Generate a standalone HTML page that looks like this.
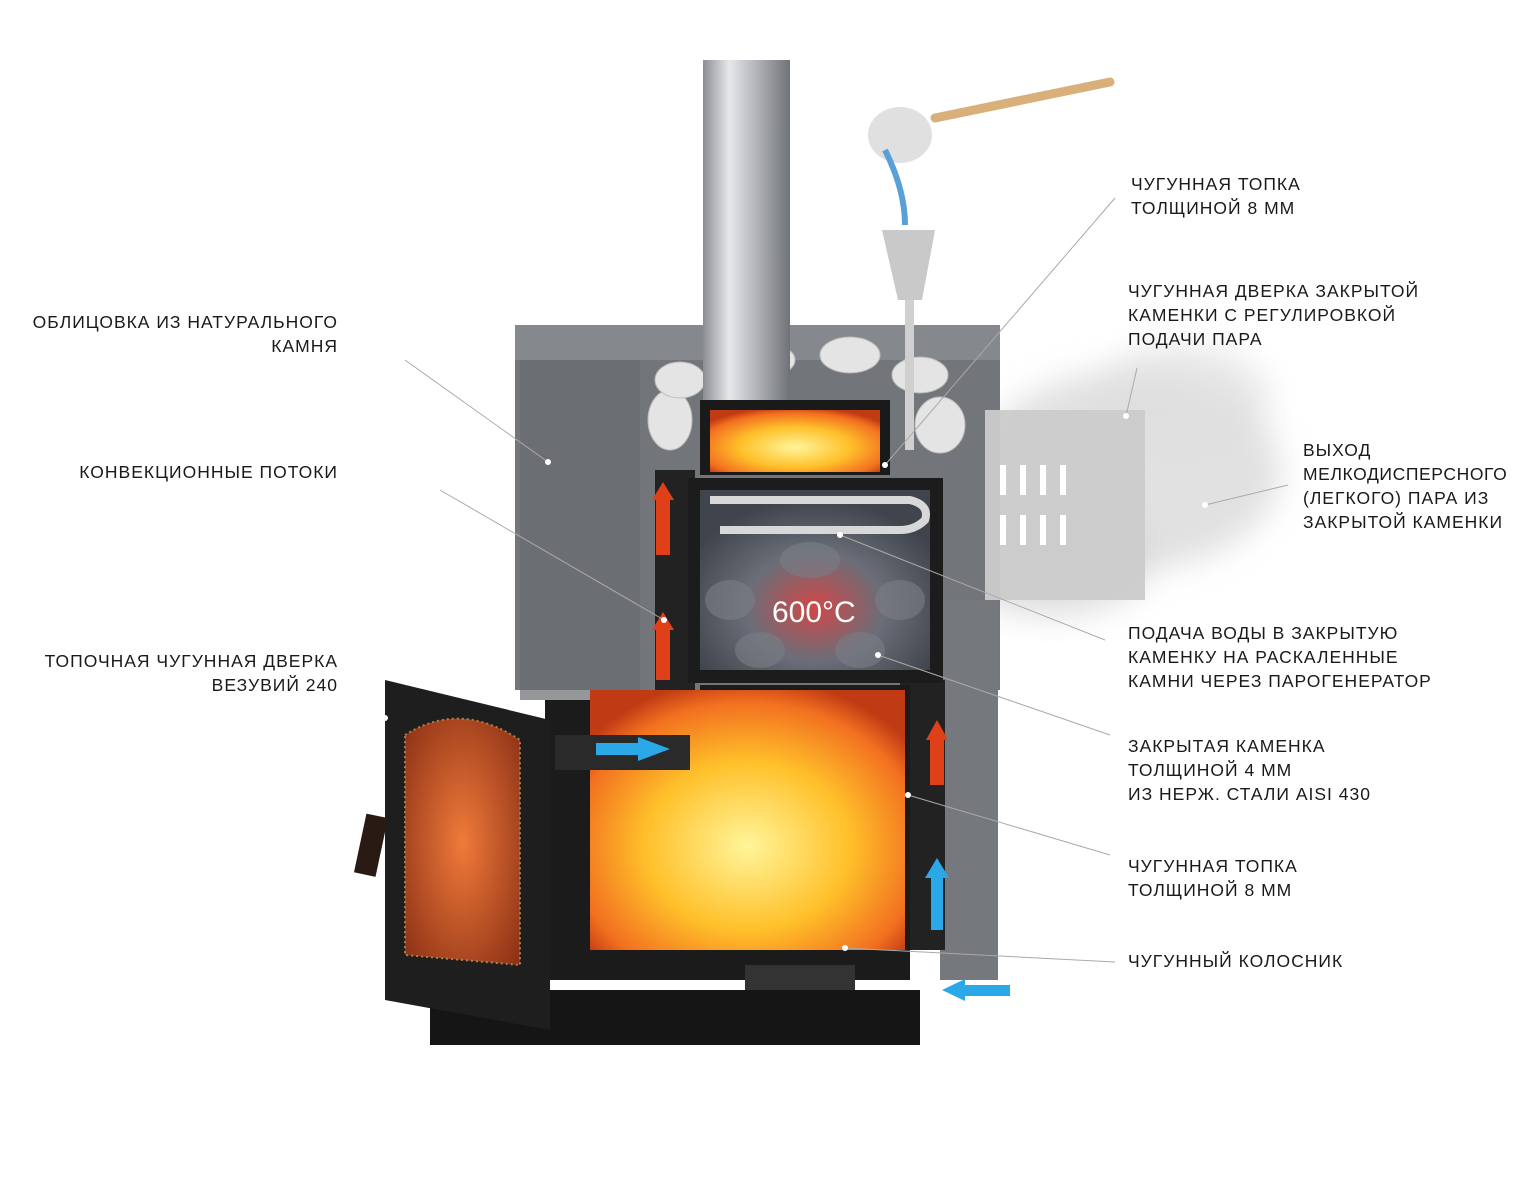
<!DOCTYPE html>
<html><head><meta charset="utf-8"><style>
html,body{margin:0;padding:0;background:#fff;}
svg{display:block}
text{font-family:"Liberation Sans",sans-serif;font-size:17.5px;fill:#1a1a1a;letter-spacing:1px}
</style></head><body>
<svg width="1540" height="1200" viewBox="0 0 1540 1200" xmlns="http://www.w3.org/2000/svg">
<defs>
<linearGradient id="pipe" x1="0" x2="1"><stop offset="0" stop-color="#8a8d92"/><stop offset=".3" stop-color="#e6e8ea"/><stop offset=".6" stop-color="#b4b7bb"/><stop offset="1" stop-color="#6f7277"/></linearGradient>
<radialGradient id="fire" cx=".5" cy=".6" r=".65"><stop offset="0" stop-color="#fff59a"/><stop offset=".5" stop-color="#ffc02a"/><stop offset=".85" stop-color="#f27020"/><stop offset="1" stop-color="#c03a14"/></radialGradient>
<radialGradient id="glass" cx=".5" cy=".5" r=".7"><stop offset="0" stop-color="#f07a3a"/><stop offset="1" stop-color="#8a2f15"/></radialGradient>
<radialGradient id="stones" cx=".5" cy=".65" r=".6"><stop offset="0" stop-color="#d04848"/><stop offset=".5" stop-color="#6a6e78"/><stop offset="1" stop-color="#40444c"/></radialGradient>
<filter id="blur"><feGaussianBlur stdDeviation="16"/></filter>
</defs>

<!-- steam -->
<g filter="url(#blur)">
<ellipse cx="1130" cy="470" rx="150" ry="100" fill="#d4d4d4" opacity=".7"/>
<ellipse cx="1050" cy="560" rx="100" ry="55" fill="#cfcfcf" opacity=".7"/>
<ellipse cx="1180" cy="400" rx="90" ry="55" fill="#dedede" opacity=".7"/>
</g>

<!-- stone body -->
<rect x="515" y="350" width="485" height="340" fill="#727579"/>
<rect x="940" y="600" width="58" height="380" fill="#75787c"/>
<rect x="515" y="325" width="485" height="35" fill="#85888c"/>
<rect x="520" y="360" width="120" height="340" fill="#686b6f" opacity=".7"/>
<g fill="#e4e4e4" stroke="#bbb">
<ellipse cx="670" cy="420" rx="22" ry="30"/><ellipse cx="680" cy="380" rx="25" ry="18"/>
<ellipse cx="760" cy="360" rx="35" ry="18"/><ellipse cx="850" cy="355" rx="30" ry="18"/>
<ellipse cx="940" cy="425" rx="25" ry="28"/><ellipse cx="920" cy="375" rx="28" ry="18"/>
</g>
<rect x="700" y="400" width="190" height="75" fill="#1a1a1a"/>
<rect x="710" y="410" width="170" height="62" fill="url(#fire)"/>
<rect x="703" y="60" width="87" height="340" fill="url(#pipe)"/>
<rect x="655" y="470" width="40" height="220" fill="#222"/>
<rect x="900" y="680" width="45" height="270" fill="#222"/>
<!-- closed stone chamber -->
<rect x="688" y="478" width="255" height="205" fill="#1c1c1c"/>
<rect x="700" y="490" width="230" height="180" fill="url(#stones)"/>
<g fill="#7a7e86" opacity=".6"><ellipse cx="730" cy="600" rx="25" ry="20"/><ellipse cx="900" cy="600" rx="25" ry="20"/><ellipse cx="760" cy="650" rx="25" ry="18"/><ellipse cx="860" cy="650" rx="25" ry="18"/><ellipse cx="810" cy="560" rx="30" ry="18"/></g>
<path d="M710 500 H910 Q930 505 925 520 Q915 530 900 530 H720" fill="none" stroke="#d8d8d8" stroke-width="8"/>
<text x="772" y="622" style="font-size:30px;fill:#fff;letter-spacing:0">600°C</text>
<!-- steam door -->
<rect x="985" y="410" width="160" height="190" fill="#cbcbcb" opacity=".95"/>
<g fill="#fff"><rect x="1000" y="465" width="6" height="30"/><rect x="1020" y="465" width="6" height="30"/><rect x="1040" y="465" width="6" height="30"/><rect x="1060" y="465" width="6" height="30"/><rect x="1000" y="515" width="6" height="30"/><rect x="1020" y="515" width="6" height="30"/><rect x="1040" y="515" width="6" height="30"/><rect x="1060" y="515" width="6" height="30"/></g>
<!-- main firebox -->
<path d="M545 700 H700 V685 H910 V980 H545 Z" fill="#1b1b1b"/>
<rect x="590" y="690" width="315" height="260" fill="url(#fire)"/>
<rect x="555" y="735" width="135" height="35" fill="#2a2a2a"/>
<rect x="430" y="990" width="490" height="55" fill="#151515"/>
<rect x="745" y="965" width="110" height="25" fill="#333"/>
<!-- door -->
<path d="M385 680 L550 720 V1030 L385 1000 Z" fill="#1e1e1e"/>
<path d="M405 735 Q460 700 520 740 V965 L405 955 Z" fill="url(#glass)" stroke="#b08040" stroke-width="2" stroke-dasharray="2 3"/>
<rect x="360" y="815" width="22" height="60" fill="#2a1a14" transform="rotate(12 370 845)"/>
<!-- ladle -->
<line x1="935" y1="118" x2="1110" y2="82" stroke="#d9b07a" stroke-width="9" stroke-linecap="round"/>
<ellipse cx="900" cy="135" rx="32" ry="28" fill="#e0e0e0"/>
<path d="M885 150 Q905 190 905 225" stroke="#5aa0d8" stroke-width="6" fill="none"/>
<path d="M882 230 H935 L922 300 H898 Z" fill="#c9c9c9"/>
<rect x="905" y="300" width="9" height="150" fill="#d0d0d0"/>
<!-- arrows -->
<g fill="#e04018">
<rect x="656" y="495" width="14" height="60"/><polygon points="652,500 663,482 674,500"/>
<rect x="656" y="625" width="14" height="55"/><polygon points="652,630 663,612 674,630"/>
<rect x="930" y="735" width="14" height="50"/><polygon points="926,740 937,720 948,740"/></g>
<g fill="#2aa8e8"><rect x="596" y="743" width="45" height="12"/><polygon points="638,737 670,749 638,761"/>
<rect x="931" y="875" width="12" height="55"/><polygon points="925,878 937,858 949,878"/>
<rect x="960" y="985" width="50" height="11"/><polygon points="965,979 942,990 965,1001"/></g>

<g stroke="#aaa" stroke-width="1" fill="none">
<line x1="405" y1="360" x2="548" y2="462"/>
<line x1="440" y1="490" x2="664" y2="620"/>
<line x1="1115" y1="198" x2="885" y2="465"/>
<line x1="1137" y1="368" x2="1126" y2="416"/>
<line x1="1288" y1="485" x2="1205" y2="505"/>
<line x1="1105" y1="640" x2="840" y2="535"/>
<line x1="1110" y1="735" x2="878" y2="655"/>
<line x1="1110" y1="855" x2="908" y2="795"/>
<line x1="1115" y1="962" x2="845" y2="948"/>
</g>
<g fill="#fff"><circle cx="548" cy="462" r="3"/><circle cx="664" cy="620" r="3"/><circle cx="885" cy="465" r="3"/><circle cx="1126" cy="416" r="3"/><circle cx="1205" cy="505" r="3"/><circle cx="840" cy="535" r="3"/><circle cx="878" cy="655" r="3"/><circle cx="908" cy="795" r="3"/><circle cx="845" cy="948" r="3"/><circle cx="385" cy="718" r="3"/></g>

<g text-anchor="end">
<text x="338" y="328">ОБЛИЦОВКА ИЗ НАТУРАЛЬНОГО</text>
<text x="338" y="352">КАМНЯ</text>
<text x="338" y="478">КОНВЕКЦИОННЫЕ ПОТОКИ</text>
<text x="338" y="667">ТОПОЧНАЯ ЧУГУННАЯ ДВЕРКА</text>
<text x="338" y="691">ВЕЗУВИЙ 240</text>
</g>
<text x="1131" y="190">ЧУГУННАЯ ТОПКА</text>
<text x="1131" y="214">ТОЛЩИНОЙ 8 ММ</text>
<text x="1128" y="297">ЧУГУННАЯ ДВЕРКА ЗАКРЫТОЙ</text>
<text x="1128" y="321">КАМЕНКИ С РЕГУЛИРОВКОЙ</text>
<text x="1128" y="345">ПОДАЧИ ПАРА</text>
<text x="1303" y="456">ВЫХОД</text>
<text x="1303" y="480" style="letter-spacing:0.6px">МЕЛКОДИСПЕРСНОГО</text>
<text x="1303" y="504">(ЛЕГКОГО) ПАРА ИЗ</text>
<text x="1303" y="528">ЗАКРЫТОЙ КАМЕНКИ</text>
<text x="1128" y="639">ПОДАЧА ВОДЫ В ЗАКРЫТУЮ</text>
<text x="1128" y="663">КАМЕНКУ НА РАСКАЛЕННЫЕ</text>
<text x="1128" y="687">КАМНИ ЧЕРЕЗ ПАРОГЕНЕРАТОР</text>
<text x="1128" y="752">ЗАКРЫТАЯ КАМЕНКА</text>
<text x="1128" y="776">ТОЛЩИНОЙ 4 ММ</text>
<text x="1128" y="800">ИЗ НЕРЖ. СТАЛИ AISI 430</text>
<text x="1128" y="872">ЧУГУННАЯ ТОПКА</text>
<text x="1128" y="896">ТОЛЩИНОЙ 8 ММ</text>
<text x="1128" y="967">ЧУГУННЫЙ КОЛОСНИК</text>
</svg>
</body></html>
